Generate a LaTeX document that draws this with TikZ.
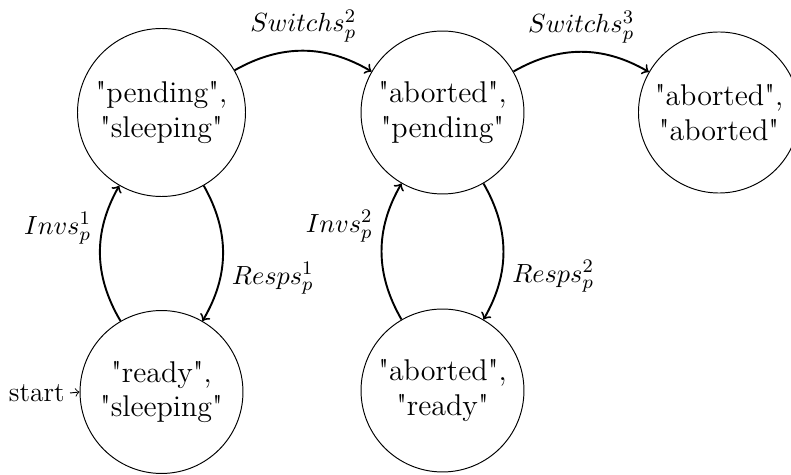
\documentclass[tikz,border=0pt]{standalone}
\usepackage{fontspec}
\newfontfamily\plainlm{Latin Modern Roman}
\begin{document}
\begin{tikzpicture}[x=0.41667pt,y=0.41667pt,
  stt/.style={circle,draw,thin,align=center,inner sep=0pt,font=\plainlm\fontsize{12.5}{14.5}\selectfont},
  tr/.style={->,thick},
  lab/.style={font=\fontsize{11}{13}\selectfont}]
\useasboundingbox (0,0) rectangle (791,475);
\node[stt,minimum size=70pt]   (A) at (161.5,362.5) {"pending",\\"sleeping"};
\node[stt,minimum size=67.9pt] (B) at (442.5,362.5) {"aborted",\\"pending"};
\node[stt,minimum size=67.1pt] (C) at (719,362.5)   {"aborted",\\"aborted"};
\node[stt,minimum size=67.9pt] (D) at (161.5,83)    {"ready",\\"sleeping"};
\node[stt,minimum size=67.9pt] (E) at (442.5,84.5)  {"aborted",\\"ready"};
\node[font=\plainlm\fontsize{11.5}{13.5}\selectfont,anchor=east,inner sep=2pt] (s) at (70,82) {start};
\draw[->,thin] (s.east) -- (D.west);
\draw[tr] (A) to[bend left] node[lab,above] {$Switchs_p^2$} (B);
\draw[tr] (B) to[bend left] node[lab,above] {$Switchs_p^3$} (C);
\draw[tr] (D) to[bend left] node[lab,anchor=south east] {$Invs_p^1$} (A);
\draw[tr] (A) to[bend left] node[lab,anchor=north west] {$Resps_p^1$} (D);
\draw[tr] (E) to[bend left] node[lab,anchor=south east] {$Invs_p^2$} (B);
\draw[tr] (B) to[bend left] node[lab,anchor=north west] {$Resps_p^2$} (E);
\end{tikzpicture}
\end{document}
